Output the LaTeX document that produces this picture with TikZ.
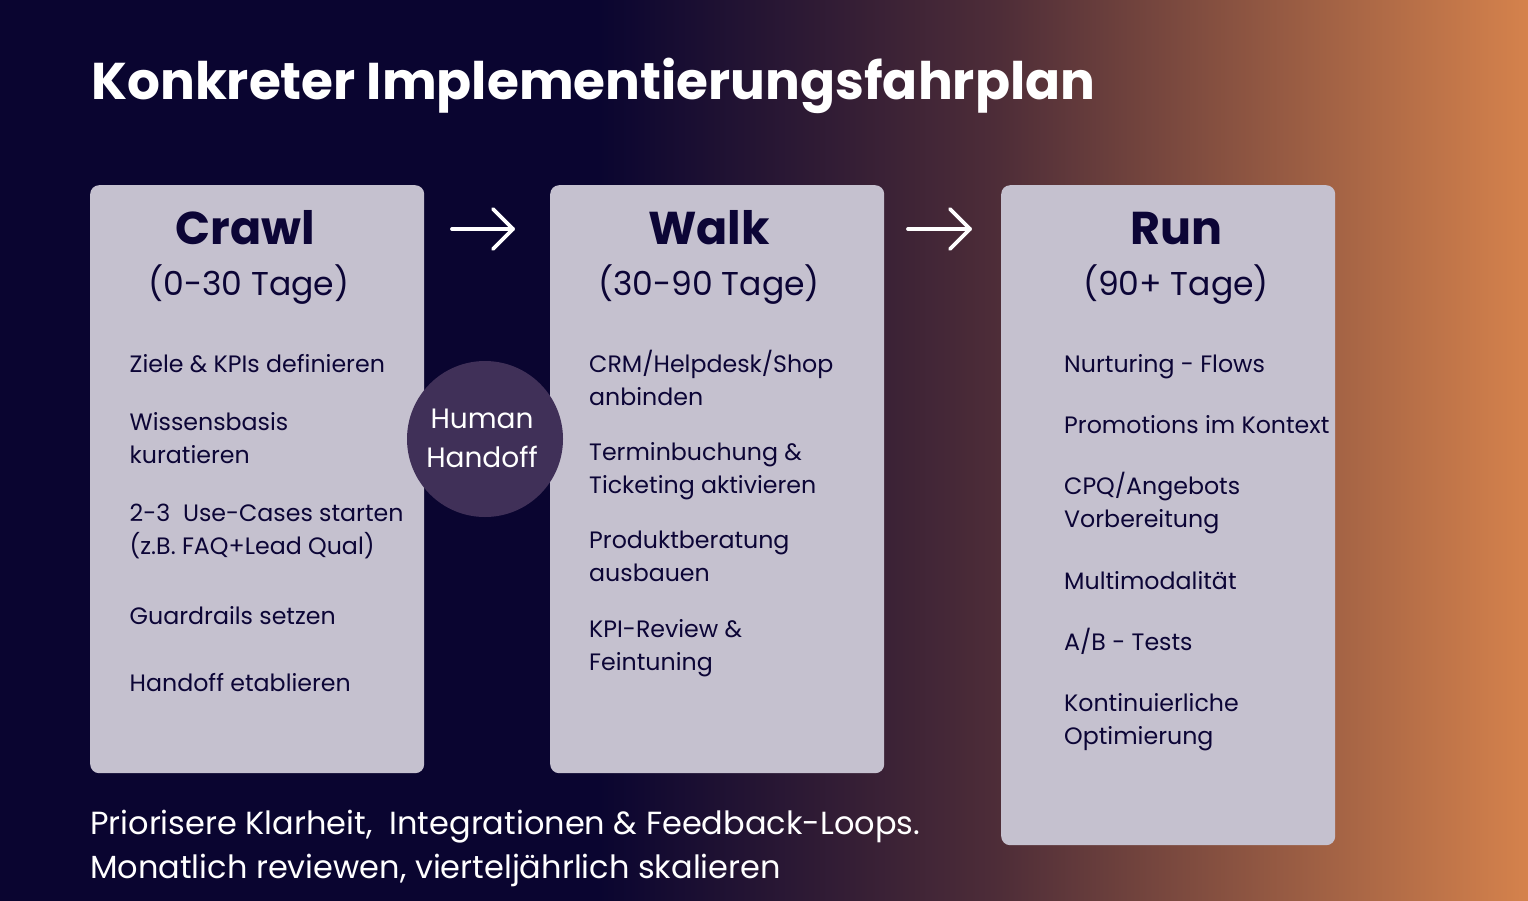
\documentclass[tikz,border=0pt]{standalone}
\usepackage{fontspec}
\setmainfont{Poppins}
\usetikzlibrary{positioning}
\definecolor{navy}{HTML}{0A0530}
\definecolor{cardgray}{HTML}{C5C1CF}
\definecolor{inkblue}{HTML}{0C0536}
\definecolor{handoffpurple}{HTML}{403058}
\definecolor{midbrown}{HTML}{4E2D38}
\definecolor{orangeend}{HTML}{D5824C}
\pgfdeclarehorizontalshading{backdrop}{100bp}{
    color(0bp)=(navy);
    color(44.6bp)=(navy);
    color(57.7bp)=(midbrown);
    color(75bp)=(orangeend);
    color(100bp)=(orangeend)}
\tikzset{
    card/.style={fill=cardgray,rounded corners=9pt,inner sep=0pt,minimum width=334pt},
    heading/.style={text=inkblue,font=\fontsize{46}{50}\selectfont\bfseries,anchor=base},
    period/.style={text=inkblue,font=\fontsize{33}{40}\selectfont,anchor=base},
    item/.style={text=inkblue,font=\fontsize{23.7}{33}\selectfont,anchor=north west,align=left,inner sep=0pt},
    flow/.style={draw=white,line width=3.8pt,line cap=round,line join=round},
    whitetext/.style={text=white,inner sep=0pt}
}
\begin{document}
\begin{tikzpicture}[x=1pt,y=-1pt]
    % background
    \useasboundingbox (0,0) rectangle (1528,900);
    \shade[shading=backdrop] (0,0) rectangle (1528,900);

    \node[whitetext,anchor=base west,font=\fontsize{51.7}{60}\selectfont\bfseries] (title) at (91,99) {Konkreter Implementierungsfahrplan};

    % cards
    \node[card,minimum height=588pt,anchor=north west] (crawl) at (90,185) {};
    \node[card,minimum height=588pt,anchor=north west] (walk) at (550,185) {};
    \node[card,minimum height=660pt,anchor=north west] (run) at (1001,185) {};

    \node[heading] (crawlhead) at (245,244) {Crawl};
    \node[period] (crawlspan) at (249,295) {(0-30 Tage)};
    \node[heading] (walkhead) at (709,244) {Walk};
    \node[period] (walkspan) at (709,295) {(30-90 Tage)};
    \node[heading] (runhead) at (1176,244) {Run};
    \node[period] (runspan) at (1176,295) {(90+ Tage)};

    % crawl column
    \node[item] (c1) at (129.5,354) {Ziele \& KPIs definieren};
    \node[item] (c2) at (129.5,412) {Wissensbasis\\kuratieren};
    \node[item] (c3) at (129.5,504) {2-3\ \ Use-Cases starten\\(z.B. FAQ+Lead Qual)};
    \node[item] (c4) at (129.5,606) {Guardrails setzen};
    \node[item] (c5) at (129.5,673) {Handoff etablieren};

    % walk column
    \node[item] (w1) at (589,350) {CRM/Helpdesk/Shop\\anbinden};
    \node[item] (w2) at (589,442) {Terminbuchung \&\\Ticketing aktivieren};
    \node[item] (w3) at (589,531) {Produktberatung\\ausbauen};
    \node[item] (w4) at (589,619) {KPI-Review \&\\Feintuning};

    % run column
    \node[item] (r1) at (1064,354) {Nurturing - Flows};
    \node[item] (r2) at (1064,415) {Promotions im Kontext};
    \node[item] (r3) at (1064,472) {CPQ/Angebots\\Vorbereitung};
    \node[item] (r4) at (1064,571) {Multimodalität};
    \node[item] (r5) at (1064,628) {A/B - Tests};
    \node[item] (r6) at (1064,693) {Kontinuierliche\\Optimierung};

    % arrows between cards
    \coordinate (a1s) at (452,229);
    \coordinate (a1e) at (513,229);
    \coordinate (a2s) at (908,229);
    \coordinate (a2e) at (970,229);
    \draw[flow] (a1s) -- (a1e);
    \draw[flow] (a1e) ++(-20,-20) -- (a1e) -- ++(-20,20);
    \draw[flow] (a2s) -- (a2e);
    \draw[flow] (a2e) ++(-20,-20) -- (a2e) -- ++(-20,20);

    \node[circle,fill=handoffpurple,minimum size=156pt,inner sep=0pt] (handoff) at (485,439) {};
    \node[whitetext,align=center,font=\fontsize{28}{39}\selectfont] (handofftext) at (482,438) {Human\\Handoff};

    \node[whitetext,anchor=north west,align=left,font=\fontsize{32}{44}\selectfont] (note) at (90,810) {Priorisere Klarheit,\ \ Integrationen \& Feedback-Loops.\\Monatlich reviewen, vierteljährlich skalieren};
\end{tikzpicture}
\end{document}
